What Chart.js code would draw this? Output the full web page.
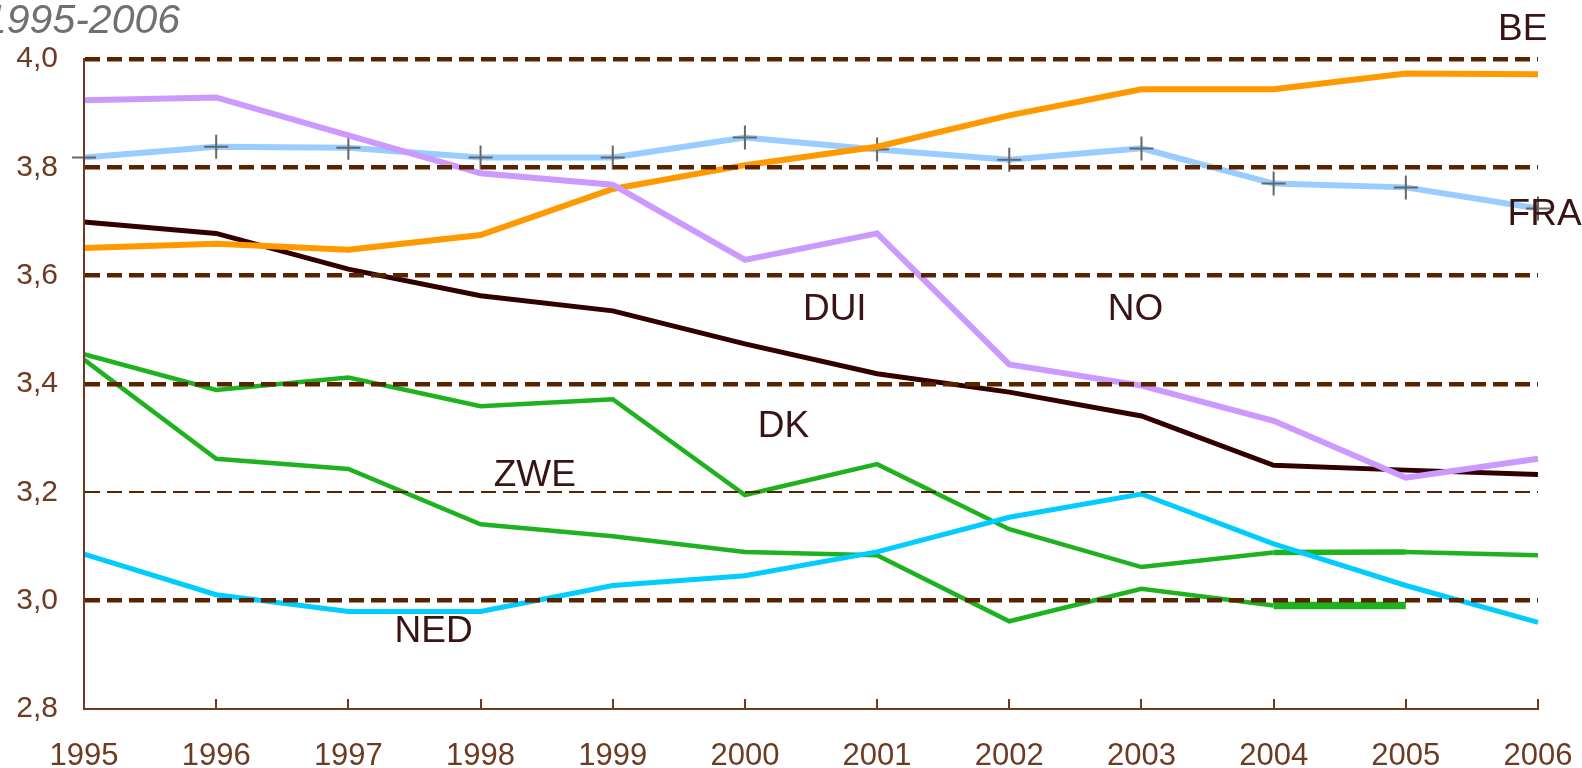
<!DOCTYPE html>
<html>
<head>
<meta charset="utf-8">
<script src="https://cdn.jsdelivr.net/npm/chart.js@4.4.1/dist/chart.umd.min.js"></script>
<style>
  html, body { margin: 0; padding: 0; background: #fff; }
  #wrap { width: 1582px; height: 768px; position: relative; }
</style>
</head>
<body>
<div id="wrap"><canvas id="chart"></canvas></div>
<script>
// scores per land, 1995 - 2006
const years = ["1995", "1996", "1997", "1998", "1999", "2000", "2001", "2002", "2003", "2004", "2005", "2006"];

const be = [3.651, 3.659, 3.648, 3.675, 3.76, 3.804, 3.838, 3.896, 3.944, 3.944, 3.973, 3.972];
const fra = [3.818, 3.838, 3.836, 3.818, 3.818, 3.855, 3.833, 3.814, 3.835, 3.77, 3.763, 3.724];
const no = [3.924, 3.929, 3.859, 3.789, 3.768, 3.629, 3.678, 3.436, 3.397, 3.332, 3.227, 3.262];
const dui = [3.699, 3.678, 3.612, 3.563, 3.535, 3.474, 3.419, 3.385, 3.341, 3.25, 3.241, 3.233];
const dk = [3.455, 3.389, 3.412, 3.359, 3.372, 3.195, 3.252, 3.132, 3.062, 3.089, 3.09, 3.084];
const zwe = [3.445, 3.262, 3.243, 3.141, 3.119, 3.09, 3.084, 2.962, 3.022, 2.991, 2.991, null];
const ned = [3.086, 3.011, 2.98, 2.98, 3.028, 3.046, 3.09, 3.154, 3.197, 3.105, 3.028, 2.96];

const yTicks = [2.8, 3.0, 3.2, 3.4, 3.6, 3.8, 4.0];
const title = "1995-2006";

const brown = "#5a2300";
const axisBrown = "#6e3b22";
const labelFont = "'Liberation Sans', Arial, sans-serif";

// where the land names sit, in data units (x = year index)
const nameSpots = {
  BE: { x: 10.885, y: 4.054, align: "center" },
  FRA: { x: 10.77, y: 3.712, align: "left" },
  DUI: { x: 5.68, y: 3.537, align: "center" },
  NO: { x: 7.955, y: 3.537, align: "center" },
  DK: { x: 5.291, y: 3.321, align: "center" },
  ZWE: { x: 3.411, y: 3.231, align: "center" },
  NED: { x: 2.645, y: 2.942, align: "center" },
};

const extras = {
  id: "extras",
  afterDraw(chart) {
    const ctx = chart.ctx;
    const xs = chart.scales.x;
    const ys = chart.scales.y;
    const area = chart.chartArea;

    // small tick marks pointing up into the plot
    ctx.save();
    ctx.strokeStyle = axisBrown;
    ctx.lineWidth = 2;
    ctx.beginPath();
    xs.ticks.forEach((t, i) => {
      const px = Math.round(xs.getPixelForTick(i));
      ctx.moveTo(px, area.bottom);
      ctx.lineTo(px, area.bottom - 10);
    });
    ctx.stroke();

    // land names
    ctx.fillStyle = "#3a1414";
    ctx.font = "37px " + labelFont;
    ctx.textBaseline = "middle";
    chart.data.datasets.forEach((ds) => {
      const spot = nameSpots[ds.label];
      if (!spot) return;
      const px = xs.left + (xs.right - xs.left) * spot.x / (years.length - 1);
      ctx.textAlign = spot.align;
      ctx.fillText(ds.label, px, ys.getPixelForValue(spot.y));
    });

    // title, cut off at the left like in the source
    ctx.fillStyle = "#707070";
    ctx.font = "italic 41px " + labelFont;
    ctx.textAlign = "left";
    ctx.textBaseline = "alphabetic";
    ctx.fillText(title, -16, 33);
    ctx.restore();
  },
};

function line(label, data, color, width) {
  return {
    label,
    data,
    borderColor: color,
    backgroundColor: color,
    borderWidth: width,
    pointRadius: 0,
    tension: 0,
    fill: false,
    spanGaps: false,
  };
}

const datasets = [
  line("NO", no, "#cc99ff", 6),
  line("BE", be, "#ff9900", 6),
  line("DUI", dui, "#330000", 5),
  {
    ...line("FRA", fra, "#99ccff", 6),
    pointStyle: "cross",
    pointRadius: 12,
    pointBorderColor: "#666666",
    pointBorderWidth: 2,
  },
  line("NED", ned, "#00ccff", 5),
  {
    ...line("DK", dk, "#1fb21f", 4.5),
    segment: { borderWidth: (c) => (c.p0DataIndex === 9 ? 5.5 : 4.5) },
  },
  {
    ...line("ZWE", zwe, "#1fb21f", 4.5),
    segment: { borderWidth: (c) => (c.p0DataIndex === 9 ? 7.5 : 4.5) },
  },
];

const chart = new Chart(document.querySelector("#chart").getContext("2d"), {
  type: "line",
  data: { labels: years, datasets },
  options: {
    responsive: true,
    maintainAspectRatio: false,
    animation: false,
    layout: { padding: { top: 59, right: 44, left: 0, bottom: 0 } },
    plugins: {
      legend: { display: false },
      tooltip: { enabled: false },
    },
    scales: {
      x: {
        offset: false,
        grid: { display: false, drawTicks: false },
        border: { display: true, color: axisBrown, width: 2 },
        ticks: {
          color: axisBrown,
          font: { family: labelFont, size: 31 },
          padding: 29,
          maxRotation: 0,
          autoSkip: false,
        },
        afterFit: (s) => {
          s.height = 59;
          s.paddingLeft = 0;
          s.paddingRight = 0;
        },
      },
      y: {
        min: 2.8,
        max: 4.0,
        afterBuildTicks: (s) => { s.ticks = yTicks.map((v) => ({ value: v })); },
        grid: {
          z: 1,
          color: brown,
          drawTicks: false,
          lineWidth: (c) => {
            const v = c.tick ? Math.round(c.tick.value * 10) / 10 : 0;
            if (v === 2.8) return 0;
            if (v === 3.2) return 2;
            return 4.5;
          },
        },
        border: { display: true, z: 1, color: axisBrown, width: 2, dash: [15, 7] },
        ticks: {
          color: axisBrown,
          font: { family: labelFont, size: 30 },
          padding: 26,
          callback: (v) => Number(v).toFixed(1).replace(".", ","),
        },
        afterFit: (s) => {
          s.width = 84;
          s.paddingTop = 0;
          s.paddingBottom = 0;
        },
      },
    },
  },
  plugins: [extras],
});
</script>
</body>
</html>
